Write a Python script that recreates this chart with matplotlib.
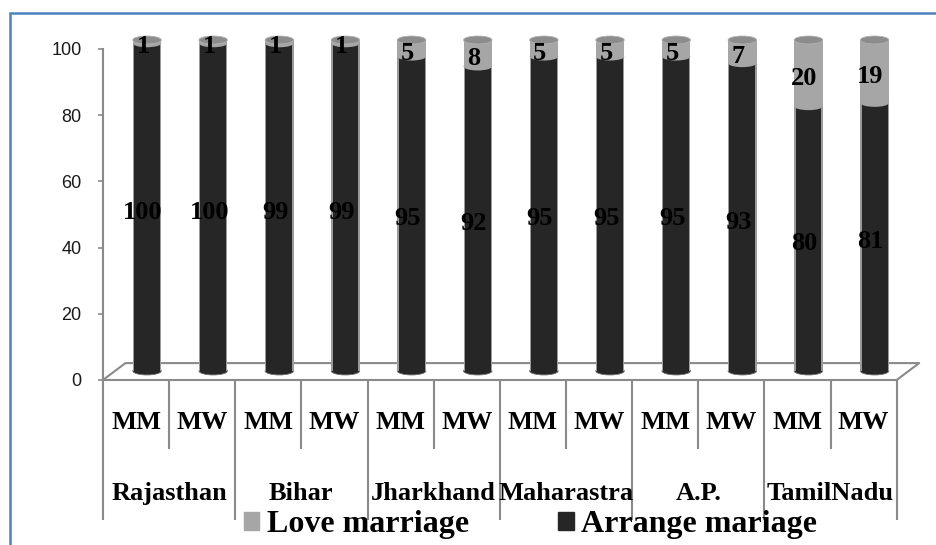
import numpy as np
import matplotlib.pyplot as plt
from matplotlib.patches import Ellipse, Rectangle, Patch
from matplotlib.transforms import ScaledTranslation

# Datos
states = ["Rajasthan", "Bihar", "Jharkhand", "Maharastra", "A.P.", "TamilNadu"]
groups = ["MM", "MW"]
arrange = np.array([100, 100, 99, 99, 95, 92, 95, 95, 95, 93, 80, 81])
love = np.array([1, 1, 1, 1, 5, 8, 5, 5, 5, 7, 20, 19])

# Colores
dark = "#262626"
light = "#a6a6a6"
cap = "#8c8c8c"
axis_gray = "#8a8a8a"
serif = "Liberation Serif"

# Columnas apiladas al 100%
total = arrange + love
arr_pct = arrange / total * 100
love_pct = love / total * 100
x = np.arange(len(arrange)) + 0.5

fig = plt.figure(figsize=(9.36, 5.45), dpi=100)
ax = fig.add_axes([0.110, 0.3028, 0.848, 0.6073])

bar_tr = ax.transData + ScaledTranslation(0.11, 0.09, fig.dpi_scale_trans)
lab_tr = ax.transData + ScaledTranslation(0.07, 0.04, fig.dpi_scale_trans)

w = 0.43
eh = 2.4  # alto de la elipse de los cilindros

for xi, a, l in zip(x, arr_pct, love_pct):
    # base del cilindro
    ax.add_patch(Ellipse((xi, 0), w, eh, transform=bar_tr, facecolor=dark,
                         edgecolor="#6e6e6e", lw=0.6, zorder=3, clip_on=False))
    ax.add_patch(Rectangle((xi - w / 2, 0), w, a, transform=bar_tr, facecolor=dark,
                           edgecolor="none", zorder=3, clip_on=False))
    ax.add_patch(Rectangle((xi - w / 2, 0), 0.02, a, transform=bar_tr, facecolor="#9a9a9a",
                           edgecolor="none", zorder=3, clip_on=False))
    ax.add_patch(Rectangle((xi + w / 2 - 0.02, 0), 0.02, a, transform=bar_tr, facecolor="#9a9a9a",
                           edgecolor="none", zorder=3, clip_on=False))
    # tramo superior (love marriage)
    ax.add_patch(Ellipse((xi, a), w, eh, transform=bar_tr, facecolor=light,
                         edgecolor="none", zorder=4, clip_on=False))
    ax.add_patch(Rectangle((xi - w / 2, a), w, l, transform=bar_tr, facecolor=light,
                           edgecolor="none", zorder=4, clip_on=False))
    ax.add_patch(Ellipse((xi, a + l), w, eh, transform=bar_tr, facecolor=cap,
                         edgecolor="#b0b0b0", lw=0.6, zorder=5, clip_on=False))

# Etiquetas de valores
for xi, a, l, va_, vl_ in zip(x, arr_pct, love_pct, arrange, love):
    ax.text(xi, a / 2, str(va_), transform=lab_tr, ha="center", va="center",
            family=serif, weight="bold", size=19, color="black", zorder=6)
    ax.text(xi, a + l / 2, str(vl_), transform=lab_tr, ha="center", va="center",
            family=serif, weight="bold", size=19, color="black", zorder=6)

# Piso 3D
dx, dy = 0.34, 5.1
ax.plot([0, dx, len(x) + dx, len(x)], [0, dy, dy, 0], color=axis_gray, lw=1.5,
        clip_on=False, zorder=1)

ax.set_xlim(0, len(x))
ax.set_ylim(0, 100)
ax.set_yticks(range(0, 101, 20))
ax.set_xticks([])
ax.tick_params(axis="y", length=3.5, width=1.2, color=axis_gray, pad=12,
               labelsize=13, labelcolor="#1a1a1a")
for t in ax.get_yticklabels():
    t.set_family("Liberation Sans")
for s in ["top", "right"]:
    ax.spines[s].set_visible(False)
for s in ["left", "bottom"]:
    ax.spines[s].set_color(axis_gray)
    ax.spines[s].set_linewidth(1.5)

# Eje de categorías en dos niveles
xt = ax.get_xaxis_transform()
ax.vlines(np.arange(0, len(x) + 1, 2), -0.423, 0, transform=xt, color=axis_gray,
          lw=1.5, clip_on=False)
ax.vlines(np.arange(1, len(x), 2), -0.208, 0, transform=xt, color=axis_gray,
          lw=1.5, clip_on=False)
for i, xi in enumerate(x):
    ax.text(xi, -0.148, groups[i % 2], transform=xt, ha="center", va="baseline",
            family=serif, weight="bold", size=19)
for j, st in enumerate(states):
    ax.text(2 * j + 1, -0.3625, st, transform=xt, ha="center", va="baseline",
            family=serif, weight="bold", size=19)

# Leyenda
handles = [Patch(color=light, label="Love marriage"),
           Patch(color=dark, label="Arrange mariage")]
fig.legend(handles=handles, loc="center", bbox_to_anchor=(0.567, 0.037), ncol=2,
           frameon=False, prop={"family": serif, "weight": "bold", "size": 23},
           handlelength=0.47, handleheight=0.47, handletextpad=0.25,
           columnspacing=2.8, borderpad=0, borderaxespad=0)

# Marco
fig.add_artist(Rectangle((10 / 936, -0.2), 1.2, 1.2 - 13 / 545, transform=fig.transFigure,
                         fill=False, edgecolor="#4f81bd", lw=1.8))

fig.savefig("out.png", dpi=100)
